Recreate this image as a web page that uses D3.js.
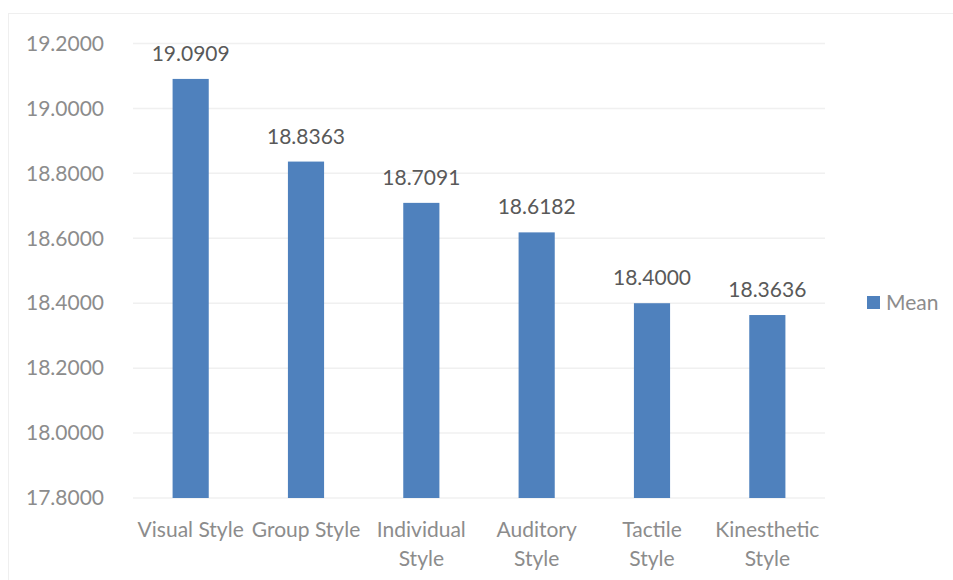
<!DOCTYPE html>
<html>
<head>
<meta charset="utf-8">
<script src="https://cdn.jsdelivr.net/npm/d3@7"></script>
<style>
  html, body { margin: 0; padding: 0; background: #fff; }
  svg { display: block; }
  text { font-family: Lato, "Open Sans", sans-serif; }
</style>
</head>
<body>
<svg id="chart" width="953" height="580"></svg>
<script>
const categories = ["Visual Style", "Group Style", "Individual\nStyle", "Auditory\nStyle", "Tactile\nStyle", "Kinesthetic\nStyle"];
const meanValues = [19.0909, 18.8363, 18.7091, 18.6182, 18.4000, 18.3636];
const yTicks = [17.8, 18.0, 18.2, 18.4, 18.6, 18.8, 19.0, 19.2];
const seriesName = "Mean";

const svg = d3.select("#chart");
const W = 953, H = 580;
const plot = { left: 133, right: 825, top: 43.5, bottom: 498 };

// chart area border
svg.append("rect")
  .attr("x", 8.5).attr("y", 13.5)
  .attr("width", W + 10).attr("height", H + 10)
  .attr("fill", "none").attr("stroke", "#efefef").attr("stroke-width", 1);

const gapRatio = 2.19; // gap width 219%
const p = gapRatio / (1 + gapRatio);
const x = d3.scaleBand()
  .domain(categories)
  .range([plot.left, plot.right])
  .paddingInner(p)
  .paddingOuter(p / 2);

const y = d3.scaleLinear()
  .domain([17.8, 19.2])
  .range([plot.bottom, plot.top]);

// gridlines
svg.append("g")
  .selectAll("line")
  .data(yTicks)
  .join("line")
  .attr("x1", plot.left).attr("x2", plot.right)
  .attr("y1", d => y(d)).attr("y2", d => y(d))
  .attr("stroke", "#f0f0f0").attr("stroke-width", 1.5);

// y axis labels
const yAxis = d3.axisLeft(y)
  .tickValues(yTicks)
  .tickFormat(d3.format(".4f"))
  .tickSize(0)
  .tickPadding(29);
const gy = svg.append("g").attr("transform", `translate(${plot.left},0)`).call(yAxis);
gy.select(".domain").remove();
gy.selectAll("text")
  .attr("fill", "#8c8c8c")
  .style("font-size", "21px")
  .style("font-family", "Lato, 'Open Sans', sans-serif");

// bars
svg.append("g")
  .selectAll("rect")
  .data(categories)
  .join("rect")
  .attr("x", d => x(d))
  .attr("width", x.bandwidth())
  .attr("y", (d, i) => y(meanValues[i]))
  .attr("height", (d, i) => y(17.8) - y(meanValues[i]))
  .attr("fill", "#4f81bd");

// data labels
svg.append("g")
  .selectAll("text")
  .data(categories)
  .join("text")
  .attr("x", d => x(d) + x.bandwidth() / 2)
  .attr("y", (d, i) => y(meanValues[i]) - 18)
  .attr("text-anchor", "middle")
  .attr("fill", "#595959")
  .style("font-size", "21px")
  .text((d, i) => meanValues[i].toFixed(4));

// x axis labels (multi-line)
const xAxis = d3.axisBottom(x).tickSize(0).tickPadding(0);
const gx = svg.append("g").attr("transform", `translate(0,${plot.bottom})`).call(xAxis);
gx.select(".domain").remove();
gx.selectAll("text").each(function(d) {
  const t = d3.select(this);
  t.text(null)
    .attr("y", 0)
    .attr("dy", null)
    .attr("fill", "#8c8c8c")
    .style("font-size", "21px")
    .style("font-family", "Lato, 'Open Sans', sans-serif");
  d.split("\n").forEach((ln, i) => {
    t.append("tspan").attr("x", 0).attr("y", 39 + i * 29).text(ln);
  });
});

// legend
const lg = svg.append("g").attr("transform", "translate(867,296)");
lg.append("rect").attr("width", 13).attr("height", 13).attr("fill", "#4f81bd");
lg.append("text")
  .attr("x", 19).attr("y", 6.5).attr("dy", "0.35em")
  .attr("fill", "#8c8c8c")
  .style("font-size", "21px")
  .text(seriesName);
</script>
</body>
</html>
